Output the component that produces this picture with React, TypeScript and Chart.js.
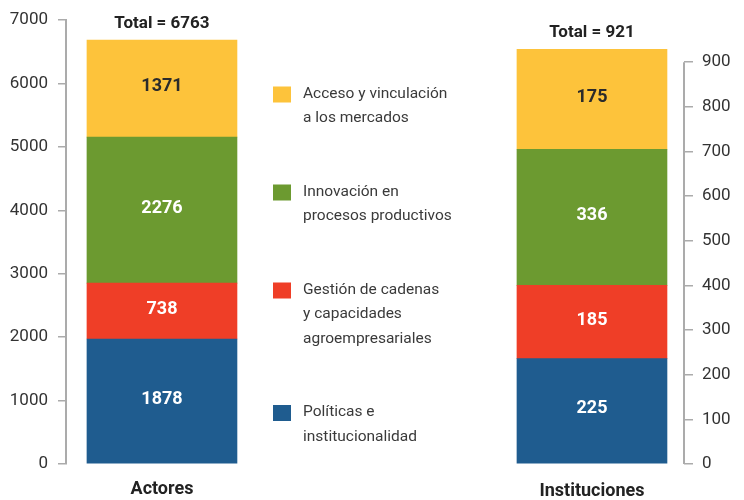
import React, { useEffect, useRef } from "react";
import { Chart, registerables } from "chart.js";

Chart.register(...registerables);

const categories = ["Actores", "Instituciones"];
const seriesNames = [
  "Políticas e\ninstitucionalidad",
  "Gestión de cadenas\ny capacidades\nagroempresariales",
  "Innovación en\nprocesos productivos",
  "Acceso y vinculación\na los mercados",
];
const seriesColors = ["#1F5C8F", "#EF3E27", "#6C9A30", "#FDC33B"];
const labelColors = ["#FFFFFF", "#FFFFFF", "#FFFFFF", "#2B2B2B"];
// bar heights as drawn in the picture
const actoresValues = [1971, 883, 2301, 1530];
const institucionesValues = [236, 164, 305, 224];
// numbers printed on the segments
const actoresLabels = ["1878", "738", "2276", "1371"];
const institucionesLabels = ["225", "185", "336", "175"];
const totals = ["6763", "921"];
const leftTicks = [0, 1000, 2000, 3000, 4000, 5000, 6000, 7000];
const rightTicks = [0, 100, 200, 300, 400, 500, 600, 700, 800, 900];

const FONT = "Roboto, 'DejaVu Sans', sans-serif";

export default function App() {
  const ref = useRef<HTMLCanvasElement>(null);

  useEffect(() => {
    document.body.style.margin = "0";
    const canvas = ref.current;
    if (!canvas) return;

    const datasets: any[] = [];
    actoresValues.forEach((v, i) => {
      datasets.push({
        label: seriesNames[i],
        data: [{ x: 0, y: v }],
        backgroundColor: seriesColors[i],
        yAxisID: "y",
        barThickness: 150,
        segLabel: actoresLabels[i],
        segLabelColor: labelColors[i],
        group: 0,
      });
    });
    institucionesValues.forEach((v, i) => {
      datasets.push({
        label: seriesNames[i],
        data: [{ x: 1, y: v }],
        backgroundColor: seriesColors[i],
        yAxisID: "y2",
        barThickness: 150,
        segLabel: institucionesLabels[i],
        segLabelColor: labelColors[i],
        group: 1,
      });
    });

    const overlay = {
      id: "overlay",
      afterDraw(chart: any) {
        const ctx = chart.ctx;
        const ca = chart.chartArea;
        ctx.save();
        // right axis line from 0 to 900
        const y2 = chart.scales.y2;
        ctx.strokeStyle = "#ABABAB";
        ctx.lineWidth = 2;
        ctx.beginPath();
        ctx.moveTo(ca.right, y2.getPixelForValue(rightTicks[0]));
        ctx.lineTo(ca.right, y2.getPixelForValue(rightTicks[rightTicks.length - 1]));
        ctx.stroke();

        // segment labels and totals
        ctx.textAlign = "center";
        ctx.textBaseline = "middle";
        ctx.font = `bold 18px ${FONT}`;
        const tops: { x: number; y: number }[] = [];
        chart.data.datasets.forEach((ds: any, di: number) => {
          const meta = chart.getDatasetMeta(di);
          const el = meta.data[0];
          if (!el) return;
          const cy = (el.y + el.base) / 2 - 2;
          ctx.fillStyle = ds.segLabelColor;
          ctx.fillText(ds.segLabel, el.x, cy);
          const g = ds.group;
          if (!tops[g] || el.y < tops[g].y) tops[g] = { x: el.x, y: el.y };
        });
        ctx.fillStyle = "#222222";
        ctx.font = `bold 17px ${FONT}`;
        tops.forEach((t, g) => {
          ctx.fillText(`Total = ${totals[g]}`, t.x, t.y - 16);
        });

        // category labels
        ctx.font = `bold 18px ${FONT}`;
        const xs = chart.scales.x;
        const catY = [489, 491];
        categories.forEach((c, i) => {
          ctx.fillText(c, xs.getPixelForValue(i), catY[i]);
        });

        // legend (top to bottom: reverse order)
        ctx.textAlign = "left";
        ctx.font = `15.5px ${FONT}`;
        let y = 94;
        const lineH = 24.5;
        for (let i = seriesNames.length - 1; i >= 0; i--) {
          const lines = seriesNames[i].split("\n");
          ctx.fillStyle = seriesColors[i];
          ctx.fillRect(273, y - 7.5, 18, 16);
          ctx.fillStyle = "#3A3A3A";
          lines.forEach((ln, k) => ctx.fillText(ln, 303, y + k * lineH));
          y = y + (lines.length - 1) * lineH + 73.5;
        }
        ctx.restore();
      },
    };

    const chart = new Chart(canvas, {
      type: "bar",
      data: { datasets },
      options: {
        animation: false,
        responsive: false,
        layout: { padding: { top: 20, bottom: 36, left: 0, right: 0 } },
        plugins: { legend: { display: false }, tooltip: { enabled: false } },
        scales: {
          x: {
            type: "linear",
            min: -0.2232,
            max: 1.214,
            offset: false,
            stacked: true,
            display: false,
          },
          y: {
            type: "linear",
            position: "left",
            stacked: true,
            min: 0,
            max: 7000,
            afterBuildTicks: (s: any) => {
              s.ticks = leftTicks.map((v) => ({ value: v }));
            },
            afterFit: (s: any) => {
              s.width = 66;
            },
            grid: {
              drawOnChartArea: false,
              drawTicks: true,
              tickLength: 8,
              color: "#ABABAB",
              lineWidth: 1.5,
            },
            border: { display: true, color: "#ABABAB", width: 2 },
            ticks: {
              padding: 10,
              color: "#333333",
              font: { family: FONT, size: 17 },
              callback: (v: any) => String(v),
            },
          },
          y2: {
            type: "linear",
            position: "right",
            stacked: true,
            min: 0,
            max: 994,
            afterBuildTicks: (s: any) => {
              s.ticks = rightTicks.map((v) => ({ value: v }));
            },
            afterFit: (s: any) => {
              s.width = 60;
            },
            grid: {
              drawOnChartArea: false,
              drawTicks: true,
              tickLength: 9,
              color: "#ABABAB",
              lineWidth: 1.5,
            },
            border: { display: false },
            ticks: {
              padding: 9,
              color: "#333333",
              font: { family: FONT, size: 17 },
              callback: (v: any) => String(v),
            },
          },
        },
      } as any,
      plugins: [overlay],
    });

    return () => chart.destroy();
  }, []);

  return (
    <div style={{ width: 744, height: 500 }}>
      <canvas ref={ref} width={744} height={500} />
    </div>
  );
}
